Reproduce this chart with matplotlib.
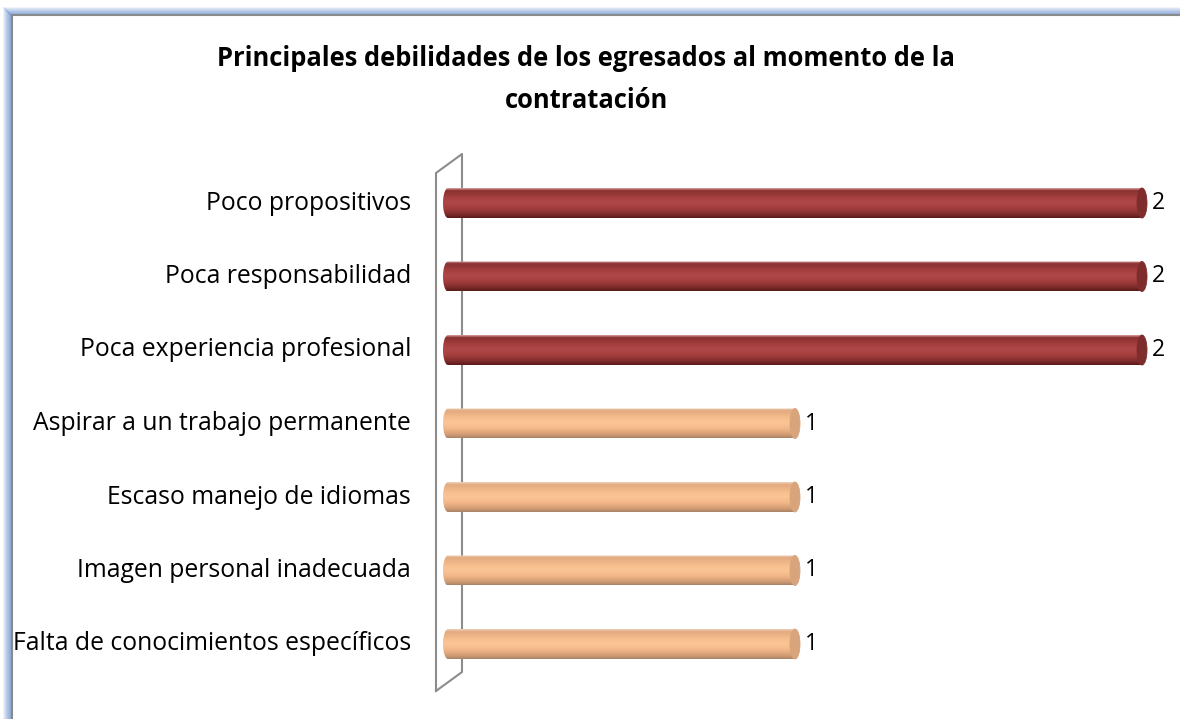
import numpy as np
import matplotlib
matplotlib.use("Agg")
import matplotlib.pyplot as plt
from matplotlib.patches import Ellipse, Polygon
from matplotlib.lines import Line2D
from matplotlib.colors import LinearSegmentedColormap

# ---- data ----
categories = [
    "Falta de conocimientos específicos",
    "Imagen personal inadecuada",
    "Escaso manejo de idiomas",
    "Aspirar a un trabajo permanente",
    "Poca experiencia profesional",
    "Poca responsabilidad",
    "Poco propositivos",
]
values = [1, 1, 1, 1, 2, 2, 2]
title_line1 = "Principales debilidades de los egresados al momento de la"
title_line2 = "contratación"

plt.rcParams['font.family'] = ['Open Sans', 'DejaVu Sans']

W, H = 1180, 719
fig = plt.figure(figsize=(W / 100, H / 100), dpi=100)
fig.patch.set_facecolor("white")

def fx(px):
    return px / W

def fy(py):
    return 1 - py / H

# frame border (top and left, blue band + gray line)
for i in range(8):
    a = 0.12 + i * 0.08
    fig.add_artist(Line2D([fx(4 + i), fx(4 + i)], [fy(719), fy(8 + i)],
                          color=(0.45, 0.6, 0.82, a), lw=1.2, transform=fig.transFigure))
    fig.add_artist(Line2D([fx(4 + i), fx(1180)], [fy(8 + i), fy(8 + i)],
                          color=(0.45, 0.6, 0.82, a), lw=1.2, transform=fig.transFigure))
fig.add_artist(Line2D([fx(12), fx(12)], [fy(719), fy(15)], color="#8a8a8a", lw=1.5,
                      transform=fig.transFigure))
fig.add_artist(Line2D([fx(12), fx(1180)], [fy(15), fy(15)], color="#8a8a8a", lw=1.5,
                      transform=fig.transFigure))

# axes placement
ax_l, ax_r, ax_t, ax_b = 430, 1170, 140, 705
ax = fig.add_axes([fx(ax_l), fy(ax_b), fx(ax_r - ax_l), fy(ax_t) - fy(ax_b)])
x0_px, unit_px = 448, 347.0
y0_px, step_px = 644, 73.5
ax.set_xlim((ax_l - x0_px) / unit_px, (ax_r - x0_px) / unit_px)
ax.set_ylim(-(ax_b - y0_px) / step_px, (y0_px - ax_t) / step_px)
ax.axis("off")

# back wall (3D)
dx = 26 / unit_px
dy = 19 / step_px
wx = -12 / unit_px
ytop = len(categories) - 1 + 30 / step_px
ybot = -47 / step_px
wall = [(wx, ybot), (wx, ytop), (wx + dx, ytop + dy), (wx + dx, ybot + dy), (wx, ybot)]
ax.add_line(Line2D([p[0] for p in wall], [p[1] for p in wall], color="#8c8c8c", lw=1.5, zorder=1))

hh = 15 / step_px       # half bar height
ew = 10 / unit_px       # ellipse width

red_cmap = LinearSegmentedColormap.from_list("r", [
    (0.0, "#d9a0a0"), (0.08, "#8a3030"), (0.35, "#a84242"), (0.5, "#b04848"),
    (0.7, "#a03c3c"), (0.9, "#7a2828"), (1.0, "#5a1a1a")])
org_cmap = LinearSegmentedColormap.from_list("o", [
    (0.0, "#eed0bc"), (0.08, "#e3aa80"), (0.35, "#f7be8e"), (0.5, "#fcc595"),
    (0.7, "#f2b688"), (0.9, "#cf9a72"), (1.0, "#a88466")])

grad = np.linspace(0, 1, 100).reshape(-1, 1)
t = np.linspace(np.pi / 2, 3 * np.pi / 2, 40)

for i, (cat, v) in enumerate(zip(categories, values)):
    cmap = red_cmap if v >= 2 else org_cmap
    capc = "#7e2c2c" if v >= 2 else "#d8a47c"
    y = i
    pts = [(ew / 2 * np.cos(a), y + hh * np.sin(a)) for a in t]
    pts = pts + [(v, y - hh), (v, y + hh), pts[0]]
    clip = Polygon(pts, closed=True, transform=ax.transData, facecolor="none", edgecolor="none")
    ax.add_patch(clip)
    im = ax.imshow(grad, cmap=cmap, aspect="auto", extent=[-ew, v, y - hh, y + hh],
                   origin="upper", zorder=3, interpolation="bilinear")
    im.set_clip_path(clip)
    ax.add_patch(Ellipse((v, y), ew, 2 * hh, facecolor=capc, edgecolor=capc, lw=0.6, zorder=4))
    ax.text(v + 10 / unit_px, y, str(v), va="center", ha="left", fontsize=16.5, color="black",
            clip_on=False, zorder=5)
    fig.text(fx(411), fy(y0_px - step_px * i), cat, ha="right", va="center", fontsize=17.8,
             color="black")

fig.text(fx(586), fy(59), title_line1, ha="center", va="center", fontsize=18.4,
         fontweight="bold", color="black")
fig.text(fx(586), fy(101), title_line2, ha="center", va="center", fontsize=18.4,
         fontweight="bold", color="black")

fig.savefig("out.png", dpi=100, facecolor="white")
